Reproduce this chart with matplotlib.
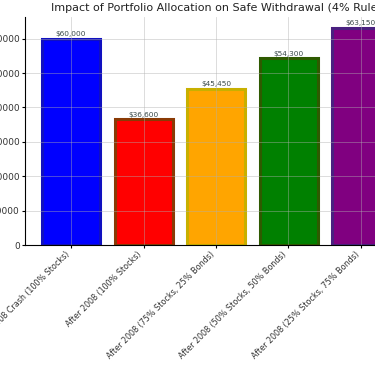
import matplotlib
matplotlib.use("Agg")
import matplotlib.pyplot as plt

# Withdrawal amounts under the 4% rule
scenarios = ['Before 2008 Crash (100% Stocks)', 'After 2008 (100% Stocks)',
             'After 2008 (75% Stocks, 25% Bonds)', 'After 2008 (50% Stocks, 50% Bonds)',
             'After 2008 (25% Stocks, 75% Bonds)']
withdrawals = [60000, 36600, 45450, 54300, 63150]
bar_colors = ['blue', 'red', 'orange', 'green', 'purple']
edge_colors = ['#1010c0', '#8a3a05', '#c8b000', '#2e5a00', '#4a2080']

fig = plt.figure(figsize=(3.75, 3.66), dpi=100)
# axes run past the right edge, like the cropped original
ax = fig.add_axes([0.0656, 0.3306, 1.0208, 0.623])

bars = ax.bar(range(len(scenarios)), withdrawals, color=bar_colors,
              edgecolor=edge_colors, linewidth=2.2, width=0.8)

for bar, val in zip(bars, withdrawals):
    ax.annotate(f'${val:,}', (bar.get_x() + bar.get_width() / 2, val),
                xytext=(0, 1), textcoords='offset points',
                ha='center', va='bottom', fontsize=5.3, color='#3a4a4a')

ax.set_title('Impact of Portfolio Allocation on Safe Withdrawal (4% Rule)',
             fontsize=8.0, color='#222222', pad=4)
ax.set_xticks(range(len(scenarios)))
ax.set_xticklabels(scenarios, rotation=45, ha='right', fontsize=5.8, color='#333333')
ax.tick_params(axis='y', labelsize=6.5, length=2, pad=1.5, labelcolor='#333333')
ax.tick_params(axis='x', length=2, pad=1.5)
ax.grid(True, color='#b0b0b0', alpha=0.5, linewidth=0.6)
ax.spines['top'].set_visible(False)
ax.spines['right'].set_visible(False)

fig.savefig('out.png', dpi=100)
